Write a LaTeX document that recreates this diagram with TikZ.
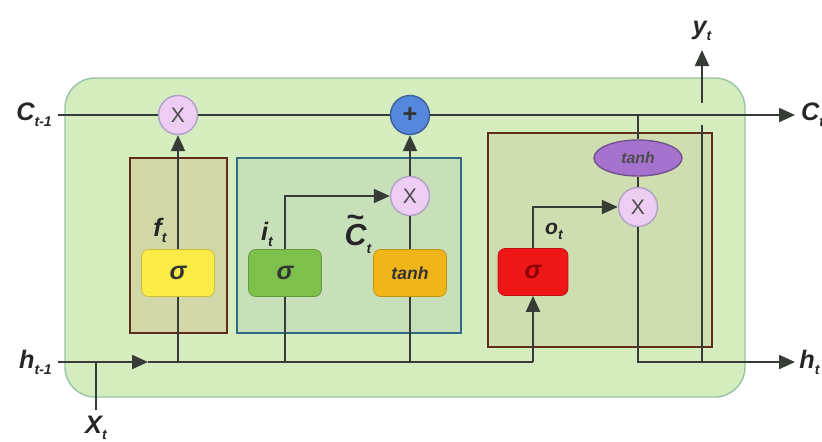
\documentclass[tikz,border=0pt]{standalone}
\usepackage{fontspec}
\setmainfont{Liberation Sans}
\usetikzlibrary{shapes.geometric, arrows.meta, positioning, calc}
\definecolor{cCell}{RGB}{212,236,190}
\definecolor{cCellEdge}{RGB}{150,195,165}
\definecolor{cBrown}{RGB}{95,45,25}
\definecolor{cTeal}{RGB}{50,105,135}
\definecolor{cForget}{RGB}{210,215,168}
\definecolor{cInput}{RGB}{200,224,185}
\definecolor{cOutput}{RGB}{206,222,176}
\definecolor{cYellow}{RGB}{250,235,70}
\definecolor{cLeaf}{RGB}{125,192,75}
\definecolor{cAmber}{RGB}{240,182,25}
\definecolor{cRed}{RGB}{238,22,22}
\definecolor{cPink}{RGB}{238,205,242}
\definecolor{cPinkEdge}{RGB}{175,160,200}
\definecolor{cBlue}{RGB}{85,135,220}
\definecolor{cPurple}{RGB}{165,115,205}
\definecolor{cWire}{RGB}{55,60,55}
\newcommand{\lowsub}[1]{\raisebox{-0.45ex}{\footnotesize #1}}
\tikzset{
	gatebox/.style ={rectangle, rounded corners=4pt, minimum width=1.46cm, minimum height=0.94cm, draw=#1!80!black, fill=#1, font=\bfseries\itshape\Large, text=black!80},
	layerbox/.style={rectangle, line width=1.4pt, inner sep=0pt},
	opcirc/.style  ={circle, minimum size=0.78cm, inner sep=0pt, draw=cPinkEdge, fill=cPink, thick, font=\large, text=black!70},
	wire/.style    ={line width=1.2pt, draw=cWire},
	flow/.style    ={wire, -{Triangle[length=3.2mm, width=2.8mm]}},
	lbl/.style     ={font=\bfseries\itshape\Large, text=black!85},
}
\begin{document}
\begin{tikzpicture}[x=0.02cm, y=-0.02cm]
	\useasboundingbox (0,0) rectangle (822,441);
	% cell body
	\draw[fill=cCell, draw=cCellEdge, thick, rounded corners=0.6cm] (65,78) rectangle (745,397);
	% gate regions
	\node[layerbox, draw=cBrown, fill=cForget, minimum width=1.94cm, minimum height=3.5cm] (forget) at (178.5,245.5) {};
	\node[layerbox, draw=cTeal, fill=cInput, minimum width=4.48cm, minimum height=3.5cm] (input) at (349,245.5) {};
	\node[layerbox, draw=cBrown, fill=cOutput, minimum width=4.48cm, minimum height=4.28cm] (output) at (600,240) {};
	% end points
	\coordinate (cin) at (58,115);
	\coordinate (cout) at (795,115);
	\coordinate (hin) at (58,362);
	\coordinate (hmid) at (148,362);
	\coordinate (hout) at (795,362);
	\coordinate (xin) at (96,410);
	\coordinate (ytap) at (702,362);
	\coordinate (ycut) at (702,125);
	\coordinate (yrise) at (702,103);
	\coordinate (yout) at (702,50);
	% gates
	\node[gatebox=cYellow] (fsig) at (178,273) {σ};
	\node[gatebox=cLeaf] (isig) at (285,273) {σ};
	\node[gatebox=cAmber, font=\bfseries\itshape\normalsize] (tsig) at (410,273) {tanh};
	\node[gatebox=cRed, minimum width=1.4cm, text=red!55!black] (osig) at (533,272) {σ};
	% pointwise ops
	\node[opcirc] (fmul) at (178,115) {X};
	\node[opcirc, fill=cBlue, draw=cBlue!70!black, text=black!80, font=\Large\bfseries] (add) at (410,115) {+};
	\node[opcirc] (imul) at (410,196) {X};
	\node[opcirc] (omul) at (638,207) {X};
	\node[ellipse, draw=cPurple!70!black, fill=cPurple, thick, minimum width=1.76cm, minimum height=0.72cm, inner sep=0pt, font=\bfseries\itshape\small, text=black!70] (otanh) at (638,158) {tanh};
	% cell state
	\draw[flow] (cin) -- (fmul) -- (add) -- (cout);
	% hidden state and input
	\draw[flow] (hin) -- (hmid);
	\draw[wire] (hmid) -- (osig |- hin);
	\draw[wire] (xin) -- (xin |- hin);
	% forget gate
	\draw[wire] (fsig |- hin) -- (fsig);
	\draw[flow] (fsig) -- (fmul);
	% input gate
	\draw[wire] (isig |- hin) -- (isig);
	\draw[flow] (isig.north) |- (imul.west);
	\draw[wire] (tsig |- hin) -- (tsig);
	\draw[wire] (tsig) -- (imul);
	\draw[flow] (imul) -- (add);
	% output gate
	\draw[flow] (osig |- hin) -- (osig);
	\draw[flow] (osig.north) |- (omul.west);
	\draw[wire] (otanh |- cin) -- (otanh);
	\draw[wire] (otanh) -- (omul);
	\draw[flow] (omul.south) |- (hout);
	\draw[wire] (ytap) -- (ycut);
	\draw[flow] (yrise) -- (yout);
	% labels
	\node[lbl, left=0pt of cin] {C\lowsub{t-1}};
	\node[lbl, right=0pt of cout] {C\lowsub{t}};
	\node[lbl, left=0pt of hin] {h\lowsub{t-1}};
	\node[lbl, right=-1pt of hout] {h\lowsub{t}};
	\node[lbl, below=0pt of xin] {X\lowsub{t}};
	\node[lbl, above=2pt of yout] {y\lowsub{t}};
	\node[lbl] at (160,230) {f\lowsub{t}};
	\node[lbl] at (267,234) {i\lowsub{t}};
	\node[lbl, font=\bfseries\itshape\LARGE] at (358,234) {{\raisebox{0.62em}{\rlap{\kern0.05em\textasciitilde}}C}\lowsub{t}};
	\node[lbl, font=\bfseries\itshape\large] at (554,231) {o\lowsub{t}};
\end{tikzpicture}
\end{document}
